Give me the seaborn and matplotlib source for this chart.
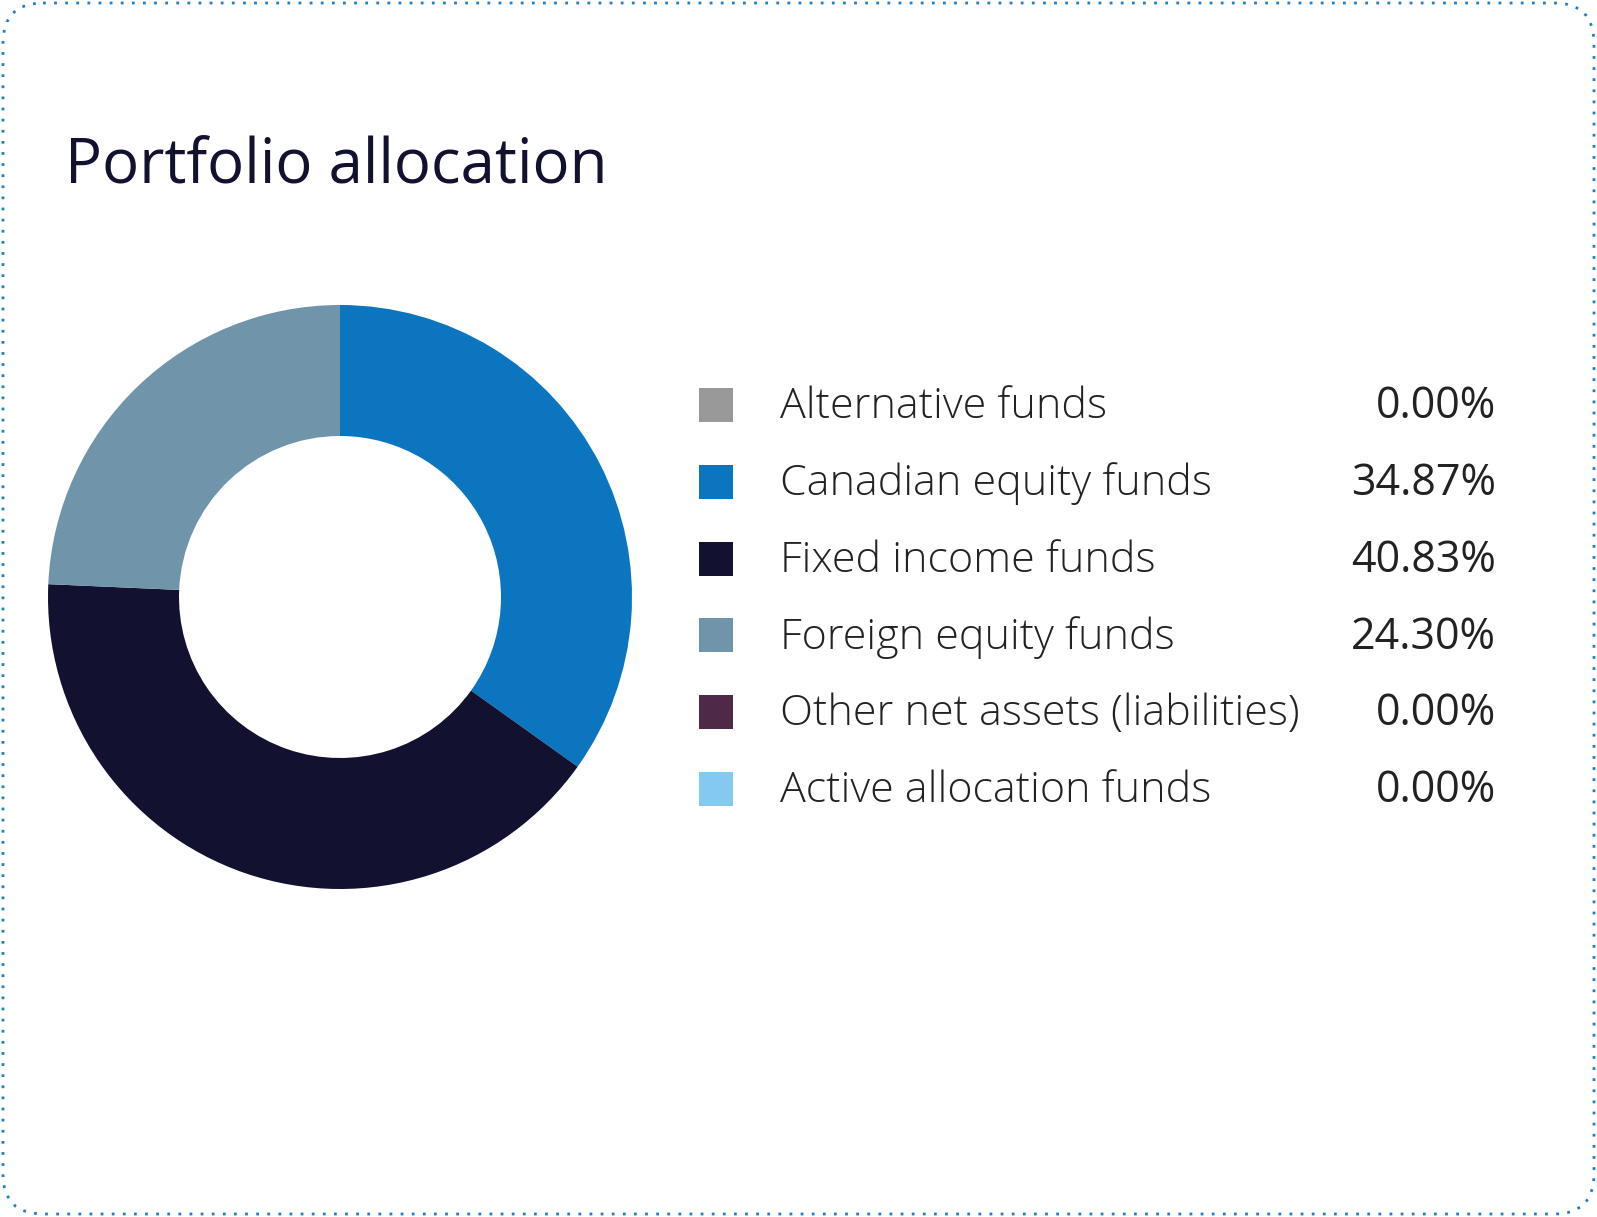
import matplotlib
matplotlib.use("Agg")
import matplotlib.pyplot as plt
import seaborn as sns
from matplotlib.patches import FancyBboxPatch, Rectangle

sns.set_theme(style="white")
plt.rcParams['font.family'] = ['Open Sans', 'DejaVu Sans']

# data
categories = ['Alternative funds', 'Canadian equity funds', 'Fixed income funds',
              'Foreign equity funds', 'Other net assets (liabilities)', 'Active allocation funds']
values = [0.00, 34.87, 40.83, 24.30, 0.00, 0.00]
colors = ['#999999', '#0c75bf', '#12112f', '#7094aa', '#4f2a48', '#84c9ef']

W, H = 1597, 1217
fig = plt.figure(figsize=(W / 100, H / 100), dpi=100)
fig.patch.set_facecolor('white')

# background canvas in pixel coordinates
bg = fig.add_axes([0, 0, 1, 1])
bg.set_xlim(0, W)
bg.set_ylim(H, 0)
bg.axis('off')
bg.add_patch(FancyBboxPatch((3, 3), W - 6, H - 6, boxstyle="round,pad=0,rounding_size=40",
                            fill=False, edgecolor='#1f7fc8', linewidth=2, linestyle=(0, (1, 3))))
bg.text(65, 166, 'Portfolio allocation', fontsize=44.5, color='#12112f',
        va='center', ha='left')

# legend
y0, dy = 405, 76.8
for i, (cat, val, col) in enumerate(zip(categories, values, colors)):
    y = y0 + i * dy
    bg.add_patch(Rectangle((699, y - 17), 34, 34, color=col, linewidth=0))
    bg.text(780, y + 2, cat, fontsize=31, color='#222222', va='center', ha='left', fontweight='light')
    bg.text(1496, y + 2, f'{val:.2f}%', fontsize=31, color='#222222', va='center', ha='right')

# donut
cx, cy, r = 340, 597, 292
ax = fig.add_axes([(cx - r) / W, 1 - (cy + r) / H, 2 * r / W, 2 * r / H])
nz = [(v, c) for v, c in zip(values, colors) if v > 0]
ax.pie([v for v, _ in nz], colors=[c for _, c in nz], startangle=90, counterclock=False,
       radius=1, wedgeprops=dict(width=(292 - 161) / 292, edgecolor='none'))
ax.set_xlim(-1, 1)
ax.set_ylim(-1, 1)
ax.set_aspect('equal')
ax.axis('off')

fig.savefig('out.png', dpi=100)
